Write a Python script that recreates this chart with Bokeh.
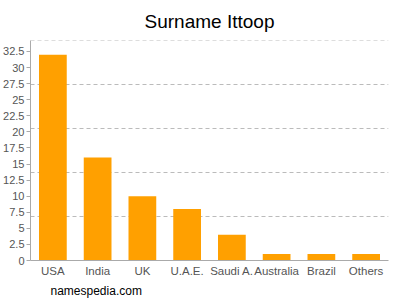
from bokeh.plotting import figure
from bokeh.models import FixedTicker, Range1d, Title
from bokeh.embed import file_html
from bokeh.resources import INLINE

countries = ["USA", "India", "UK", "U.A.E.", "Saudi A.", "Australia", "Brazil", "Others"]
counts = [32, 16, 10, 8, 4, 1, 1, 1]
y_ticks = [0, 2.5, 5, 7.5, 10, 12.5, 15, 17.5, 20, 22.5, 25, 27.5, 30, 32.5]
y_tick_labels = ["0", "2.5", "5", "7.5", "10", "12.5", "15", "17.5", "20", "22.5", "25", "27.5", "30", "32.5"]
grid_lines = [6.83, 13.67, 20.5, 27.33, 34.17]

FONT = "Liberation Sans"

p = figure(x_range=countries, y_range=Range1d(0, 34.2), width=400, height=300,
           output_backend="svg", toolbar_location=None,
           min_border_left=28, min_border_right=12, min_border_top=40, min_border_bottom=40)
p.outline_line_color = None

p.title = Title(text="Surname Ittoop", align="center", text_font=FONT,
                text_font_size="19px", text_color="#000000", text_font_style="normal",
                offset=0, standoff=17)

p.vbar(x=countries, top=counts, width=0.62, color="#ffa000", line_color=None)

p.xgrid.grid_line_color = None
p.ygrid.ticker = FixedTicker(ticks=grid_lines)
p.ygrid.grid_line_color = "#bbbbbb"
p.ygrid.grid_line_dash = "4 3"

p.yaxis.ticker = FixedTicker(ticks=y_ticks)
p.yaxis.major_label_overrides = {t: l for t, l in zip(y_ticks, y_tick_labels)}
for ax in (p.xaxis[0], p.yaxis[0]):
    ax.axis_line_color = "#aaaaaa"
    ax.major_label_text_color = "#555555"
    ax.major_label_text_font = FONT
    ax.major_label_text_font_size = "11px"
    ax.minor_tick_line_color = None
p.yaxis.major_tick_line_color = "#aaaaaa"
p.yaxis.major_tick_in = 0
p.yaxis.major_tick_out = 4
p.yaxis.major_label_standoff = 2
p.xaxis.major_tick_line_color = None
p.xaxis.major_tick_in = 0
p.xaxis.major_tick_out = 0
p.xaxis.major_label_standoff = 4
p.xaxis.major_label_text_font_size = "11.5px"

p.add_layout(Title(text="namespedia.com", align="left", text_font=FONT,
                   text_font_size="12px", text_color="#000000", text_font_style="normal",
                   offset=20, standoff=5), "below")

open("out.html", "w").write(file_html(p, INLINE))
